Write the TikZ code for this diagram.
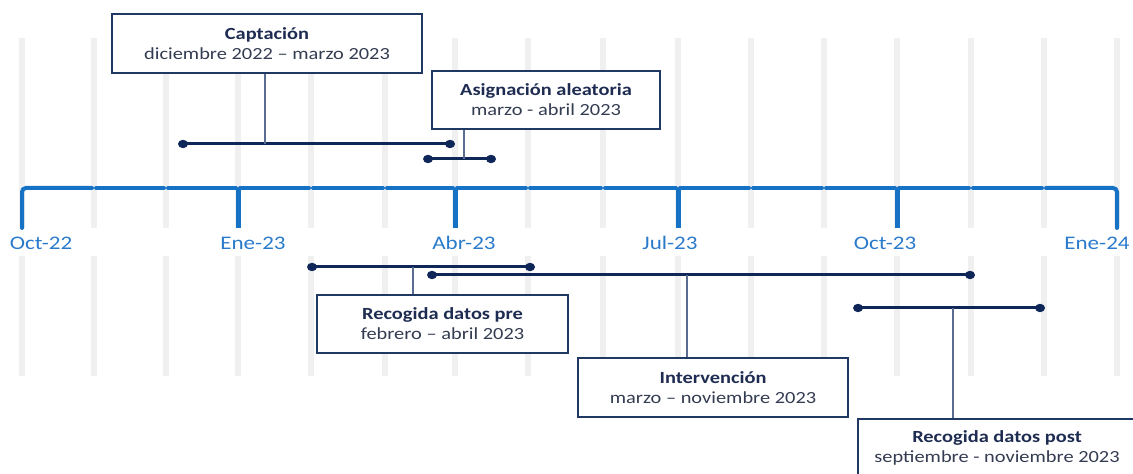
\documentclass[tikz,border=0pt]{standalone}
\usepackage{fontspec}
\setmainfont{Carlito}[FakeStretch=1.2]
\usetikzlibrary{positioning}

\definecolor{boxnavy}{RGB}{32,56,100}
\definecolor{barnavy}{RGB}{14,38,88}
\definecolor{leadgray}{RGB}{90,108,145}
\definecolor{titlenavy}{RGB}{30,44,82}
\definecolor{subgray}{RGB}{52,60,82}
\definecolor{axisblue}{RGB}{22,114,196}
\definecolor{labelblue}{RGB}{42,122,204}
\definecolor{guidegray}{RGB}{240,240,240}

\tikzset{
  guide/.style={draw=guidegray, line width=3pt},
  axisline/.style={draw=axisblue, line width=2pt, line cap=round},
  axistick/.style={draw=axisblue, line width=2.5pt},
  monthlabel/.style={text=labelblue, font=\fontsize{9.6}{11}\selectfont, inner sep=0pt},
  spanbar/.style={draw=barnavy, line width=1.5pt},
  leader/.style={draw=leadgray, line width=0.6pt},
  phasebox/.style={draw=boxnavy, line width=1.3pt, fill=white, align=center,
    inner sep=0pt, font=\fontsize{8.5}{10}\selectfont},
}
\newcommand{\phase}[2]{{\bfseries\color{titlenavy}#1}\\{\color{subgray}#2}}

\begin{document}
\begin{tikzpicture}[x=0.5pt, y=-0.5pt]
    \useasboundingbox (0,0) rectangle (1133,474);

    % Grey month guides
    \foreach \x in {22,94,166,238,311,385,455,528,603,678,751,824,897,971,1044,1117} {
        \draw[guide] (\x,38) -- (\x,228);
        \draw[guide] (\x,256) -- (\x,376);
    }

    % Time axis
    \draw[axisline, rounded corners=2pt] (22,228) -- (22,188) -- (92,188);
    \foreach \a/\b in {94/166,166/238,238/311,311/385,385/455,455/528,528/603,603/678,678/751,751/824,824/897,897/971,971/1044}
        \draw[axisline] (\a+2,188) -- (\b-2,188);
    \draw[axisline, rounded corners=2pt] (1046,188) -- (1117,188) -- (1117,228);
    \foreach \x in {238,455,678,897}
        \draw[axistick] (\x,188) -- (\x,228);

    % Month labels
    \node[monthlabel] (oct22) at (41,243) {Oct-22};
    \node[monthlabel] (ene23) at (253,243) {Ene-23};
    \node[monthlabel] (abr23) at (464,243) {Abr-23};
    \node[monthlabel] (jul23) at (670,243) {Jul-23};
    \node[monthlabel] (oct23) at (885,243) {Oct-23};
    \node[monthlabel] (ene24) at (1097,243) {Ene-24};

    % Phase spans
    \coordinate (captL) at (183,144);  \coordinate (captR) at (450,144);  \coordinate (captM) at (265,144);
    \coordinate (asigL) at (428,159);  \coordinate (asigR) at (491,159);  \coordinate (asigM) at (464,159);
    \coordinate (preL) at (312,267);   \coordinate (preR) at (530,267);   \coordinate (preM) at (413,267);
    \coordinate (intL) at (432,275);   \coordinate (intR) at (970,275);   \coordinate (intM) at (687,275);
    \coordinate (postL) at (858,308);  \coordinate (postR) at (1040,308); \coordinate (postM) at (953,308);
    \foreach \s in {capt,asig,pre,int,post} {
        \draw[spanbar] (\s L) -- (\s R);
        \fill[barnavy] (\s L) ellipse (2.5pt and 2.1pt);
        \fill[barnavy] (\s R) ellipse (2.5pt and 2.1pt);
    }

    % Boxes
    \node[phasebox, minimum width=155pt, minimum height=29.5pt] (capt) at (267,43.5)
        {\phase{Captación}{diciembre 2022 -- marzo 2023}};
    \node[phasebox, minimum width=114pt, minimum height=29pt] (asig) at (546,100)
        {\phase{Asignación aleatoria}{marzo - abril 2023}};
    \node[phasebox, minimum width=125.5pt, minimum height=29pt] (pre) at (442.5,324)
        {\phase{Recogida datos pre}{febrero -- abril 2023}};
    \node[phasebox, minimum width=135pt, minimum height=29.5pt] (int) at (713,387.5)
        {\phase{Intervención}{marzo -- noviembre 2023}};
    \node[phasebox, minimum width=139pt, minimum height=29pt] (post) at (997,448)
        {\phase{Recogida datos post}{septiembre - noviembre 2023}};

    % Leaders
    \draw[leader] (capt.south -| captM) -- (captM);
    \draw[leader] (asig.south -| asigM) -- (asigM);
    \draw[leader] (preM) -- (pre.north -| preM);
    \draw[leader] (intM) -- (int.north -| intM);
    \draw[leader] (postM) -- (post.north -| postM);
\end{tikzpicture}
\end{document}
